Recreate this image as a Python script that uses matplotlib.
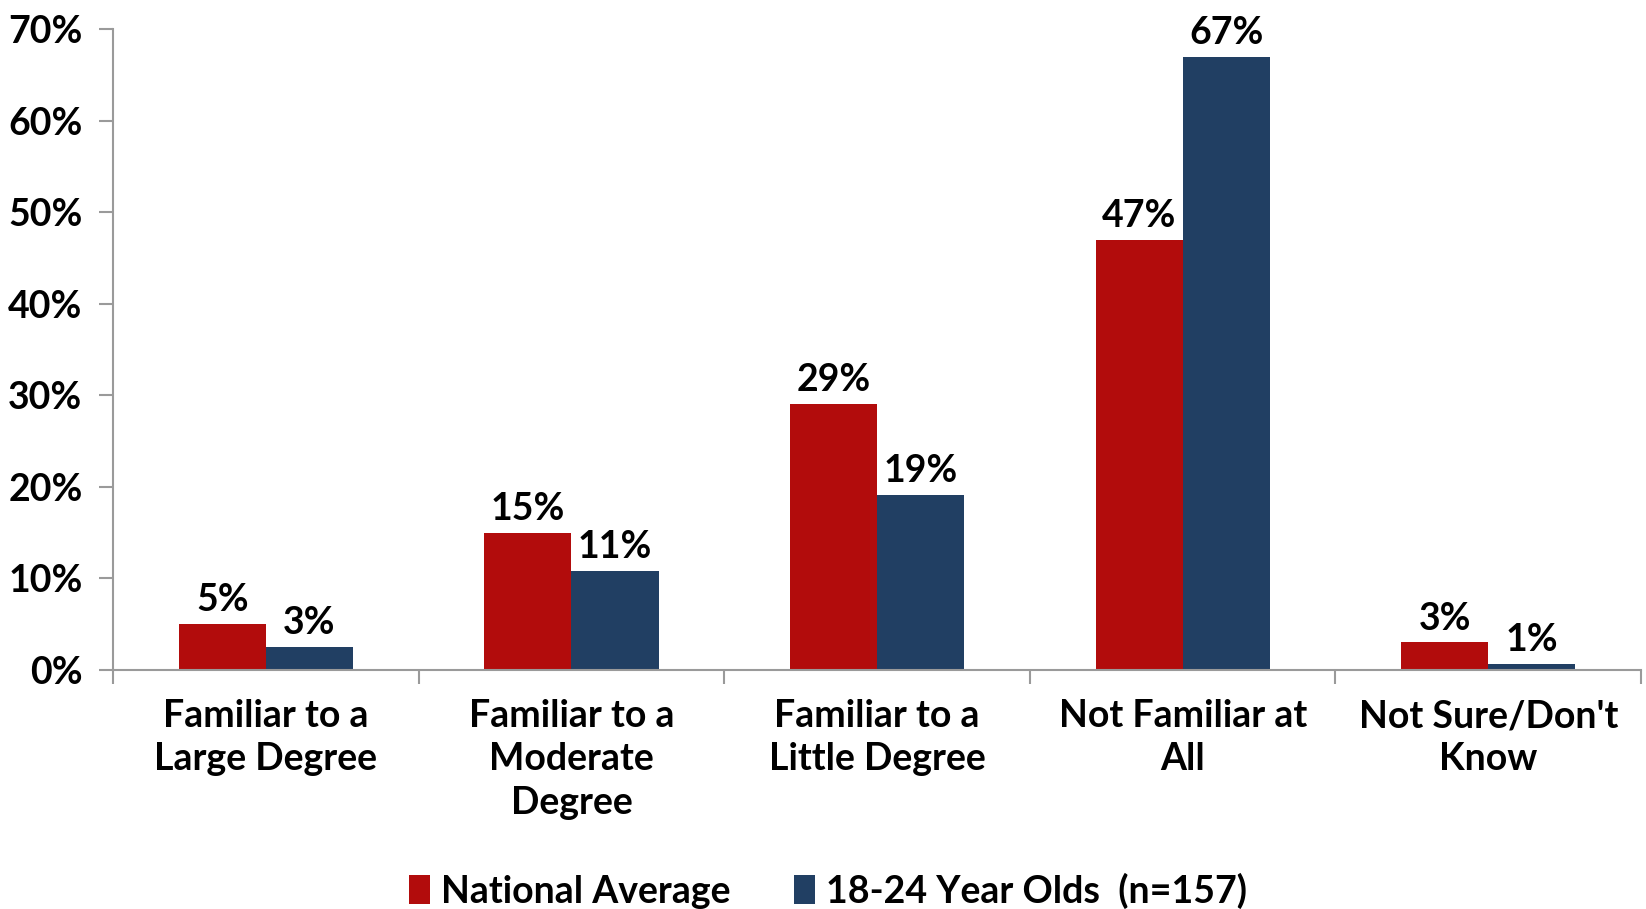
import matplotlib
matplotlib.use("Agg")
import matplotlib.pyplot as plt
import numpy as np

categories = ["Familiar to a\nLarge Degree", "Familiar to a\nModerate\nDegree",
              "Familiar to a\nLittle Degree", "Not Familiar at\nAll",
              "Not Sure/Don't\nKnow"]
national = [5.0, 15.0, 29.0, 47.0, 3.0]
youth = [2.5, 10.8, 19.1, 67.0, 0.6]
national_labels = ["5%", "15%", "29%", "47%", "3%"]
youth_labels = ["3%", "11%", "19%", "67%", "1%"]
series_names = ["National Average", "18-24 Year Olds  (n=157)"]

RED = "#B20C0C"
BLUE = "#213F63"
GREY = "#9A9A9A"

plt.rcParams["font.family"] = ["Lato", "DejaVu Sans"]
plt.rcParams["font.weight"] = "bold"

fig = plt.figure(figsize=(16.46, 9.09), dpi=100)
ax = fig.add_axes([0.0687, 0.263, 0.9283, 0.705])

x = np.arange(len(categories))
w = 0.285
b1 = ax.bar(x - w / 2, national, w, color=RED, label=series_names[0])
b2 = ax.bar(x + w / 2, youth, w, color=BLUE, label=series_names[1])

# value labels above each bar
for bars, labs in ((b1, national_labels), (b2, youth_labels)):
    for bar, lab in zip(bars, labs):
        ax.annotate(lab, (bar.get_x() + bar.get_width() / 2, bar.get_height()),
                    xytext=(0, 5), textcoords="offset points",
                    ha="center", va="bottom", fontsize=27, fontweight="bold")

ax.set_xlim(-0.5, len(categories) - 0.5)
ax.set_ylim(0, 70)
ax.set_yticks(np.arange(0, 71, 10))
ax.set_yticklabels([f"{v}%" for v in range(0, 71, 10)], fontsize=27, fontweight="bold")

# ticks on x sit between categories
ax.set_xticks(np.arange(-0.5, len(categories)))
ax.set_xticklabels([])
ax.tick_params(axis="x", length=10, color=GREY, width=1.5)
ax.tick_params(axis="y", length=10, color=GREY, width=1.5, pad=12)
for i, c in enumerate(categories):
    ax.text(i, -3.2, c, ha="center", va="top", fontsize=27, fontweight="bold",
            linespacing=1.33)

for s in ("top", "right"):
    ax.spines[s].set_visible(False)
for s in ("left", "bottom"):
    ax.spines[s].set_color(GREY)
    ax.spines[s].set_linewidth(1.5)

fig.legend(loc="center", bbox_to_anchor=(0.503, 0.02), ncol=2, frameon=False,
           fontsize=27, handlelength=0.55, handleheight=0.8, handletextpad=0.3,
           columnspacing=1.7)

fig.savefig("out.png", dpi=100)
